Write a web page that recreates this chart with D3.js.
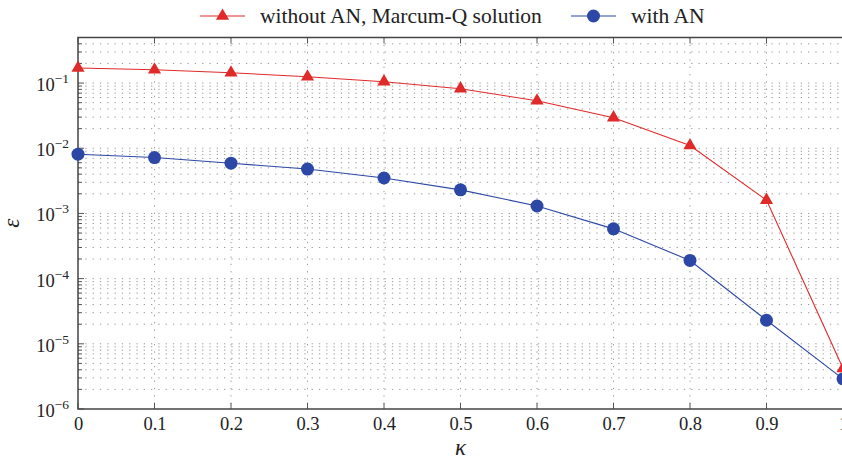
<!DOCTYPE html>
<html>
<head>
<meta charset="utf-8">
<script src="https://cdn.jsdelivr.net/npm/d3@7"></script>
<style>
  body { margin: 0; background: #fff; }
  svg text { font-family: "Liberation Serif", "DejaVu Serif", serif; }
</style>
</head>
<body>
<div id="chart"></div>
<script>
// ==== Data ====
const kappa = [0, 0.1, 0.2, 0.3, 0.4, 0.5, 0.6, 0.7, 0.8, 0.9, 1.0];
const withoutAN = [0.17, 0.16, 0.144, 0.125, 0.105, 0.082, 0.0535, 0.0294, 0.011, 0.0016, 4.2e-6];
const withAN = [0.0081, 0.0072, 0.0059, 0.0048, 0.0035, 0.0023, 0.0013, 0.00058, 0.00019, 2.3e-5, 2.9e-6];
const xTicks = [0, 0.1, 0.2, 0.3, 0.4, 0.5, 0.6, 0.7, 0.8, 0.9, 1];
const yExponents = [-6, -5, -4, -3, -2, -1];
const seriesNames = ["without AN, Marcum-Q solution", "with AN"];

// ==== Layout ====
const W = 842, H = 459;
const margin = { top: 37.5, right: -1, bottom: 50, left: 78 };
const red = "#e02a2a", blue = "#2c47a6";
const serif = "Liberation Serif, DejaVu Serif, serif";

const svg = d3.select("#chart").append("svg")
    .attr("width", W)
    .attr("height", H)
    .attr("font-family", serif);

const xScale = d3.scaleLinear().domain([0, 1]).range([margin.left, W - margin.right]);
const yScale = d3.scaleLog().domain([1e-6, 0.5]).range([H - margin.bottom, margin.top]);

// ==== Grid ====
const minorVals = [];
for (let e = -6; e <= -1; e++) {
    for (let m = 1; m <= 9; m++) {
        const v = m * Math.pow(10, e);
        if (v <= 0.5 && v > 1e-6) minorVals.push(v);
    }
}

const grid = svg.append("g").attr("class", "grid");
grid.selectAll(".hgrid")
    .data(minorVals)
    .join("line")
    .attr("x1", margin.left)
    .attr("x2", W)
    .attr("y1", d => yScale(d))
    .attr("y2", d => yScale(d))
    .attr("stroke", "#9a9a9a")
    .attr("stroke-width", 1)
    .attr("stroke-dasharray", "1.3,6");

grid.selectAll(".vgrid")
    .data(xTicks.slice(1))
    .join("line")
    .attr("x1", d => xScale(d))
    .attr("x2", d => xScale(d))
    .attr("y1", margin.top)
    .attr("y2", H - margin.bottom)
    .attr("stroke", "#9a9a9a")
    .attr("stroke-width", 1)
    .attr("stroke-dasharray", "1.3,6");

// ==== Axes ====
const xAxis = d3.axisBottom(xScale)
    .tickValues(xTicks)
    .tickSize(0)
    .tickPadding(8)
    .tickFormat(d => d === 0 ? "0" : d3.format("")(d));

const gx = svg.append("g")
    .attr("transform", `translate(0,${H - margin.bottom})`)
    .call(xAxis)
    .attr("font-family", serif);
gx.select(".domain").remove();
gx.selectAll("text").attr("font-size", 18.5).attr("fill", "#222");

// inward tick marks on x
svg.append("g").selectAll("line")
    .data(xTicks)
    .join("line")
    .attr("x1", d => xScale(d)).attr("x2", d => xScale(d))
    .attr("y1", H - margin.bottom).attr("y2", H - margin.bottom - 6)
    .attr("stroke", "#555");
svg.append("g").selectAll("line")
    .data(xTicks)
    .join("line")
    .attr("x1", d => xScale(d)).attr("x2", d => xScale(d))
    .attr("y1", margin.top).attr("y2", margin.top + 6)
    .attr("stroke", "#555");

// y ticks (inward), major longer
svg.append("g").selectAll("line")
    .data(minorVals.concat([1e-6]))
    .join("line")
    .attr("x1", margin.left)
    .attr("x2", d => margin.left + (Math.abs(Math.log10(d) - Math.round(Math.log10(d))) < 1e-9 ? 6 : 4))
    .attr("y1", d => yScale(d))
    .attr("y2", d => yScale(d))
    .attr("stroke", "#555");

const yLabels = svg.append("g").selectAll("text")
    .data(yExponents)
    .join("text")
    .attr("x", margin.left - 9)
    .attr("y", d => yScale(Math.pow(10, d)) + 8)
    .attr("text-anchor", "end")
    .attr("fill", "#222")
    .attr("font-size", 18.5);
yLabels.append("tspan").text("10");
yLabels.append("tspan")
    .attr("dy", -8)
    .attr("font-size", 13.5)
    .text(d => "\u2212" + Math.abs(d));

// frame
svg.append("path")
    .attr("d", `M${W + 2},${margin.top}H${margin.left}V${H - margin.bottom}H${W + 2}`)
    .attr("fill", "none")
    .attr("stroke", "#444")
    .attr("stroke-width", 1.5);

// axis titles
svg.append("text")
    .attr("x", xScale(0.5))
    .attr("y", H - 4)
    .attr("text-anchor", "middle")
    .attr("font-style", "italic")
    .attr("font-size", 23)
    .attr("fill", "#222")
    .text("\u03ba");

svg.append("text")
    .attr("transform", `translate(19,${(margin.top + H - margin.bottom) / 2}) rotate(-90)`)
    .attr("text-anchor", "middle")
    .attr("font-style", "italic")
    .attr("font-size", 23)
    .attr("fill", "#222")
    .text("\u03b5");

// ==== Series ====
const line = d3.line()
    .x(d => xScale(d[0]))
    .y(d => yScale(d[1]));

const redData = kappa.map((k, i) => [k, withoutAN[i]]);
const blueData = kappa.map((k, i) => [k, withAN[i]]);

svg.append("path").datum(redData)
    .attr("d", line).attr("fill", "none").attr("stroke", red).attr("stroke-width", 1.1);
svg.append("path").datum(blueData)
    .attr("d", line).attr("fill", "none").attr("stroke", blue).attr("stroke-width", 1.1);

const tri = d3.symbol().type(d3.symbolTriangle).size(75);

svg.append("g").selectAll("path")
    .data(redData)
    .join("path")
    .attr("d", tri)
    .attr("transform", d => `translate(${xScale(d[0])},${yScale(d[1])})`)
    .attr("fill", red);

svg.append("g").selectAll("circle")
    .data(blueData)
    .join("circle")
    .attr("cx", d => xScale(d[0]))
    .attr("cy", d => yScale(d[1]))
    .attr("r", 6.5)
    .attr("fill", blue);

// ==== Legend ====
const legend = svg.append("g").attr("transform", "translate(0,16)");
const legItems = [
    { name: seriesNames[0], color: red, x: 200, marker: "tri" },
    { name: seriesNames[1], color: blue, x: 571, marker: "circle" }
];
legItems.forEach(it => {
    const g = legend.append("g").attr("transform", `translate(${it.x},0)`);
    g.append("line").attr("x1", 0).attr("x2", 45).attr("stroke", it.color).attr("stroke-width", 1.1);
    if (it.marker === "tri") {
        g.append("path").attr("d", tri).attr("transform", "translate(22.5,0)").attr("fill", it.color);
    } else {
        g.append("circle").attr("cx", 22.5).attr("r", 6.5).attr("fill", it.color);
    }
    g.append("text")
        .attr("x", 60)
        .attr("y", 7)
        .attr("font-size", 21.5)
        .attr("fill", "#222")
        .text(it.name);
});
</script>
</body>
</html>
